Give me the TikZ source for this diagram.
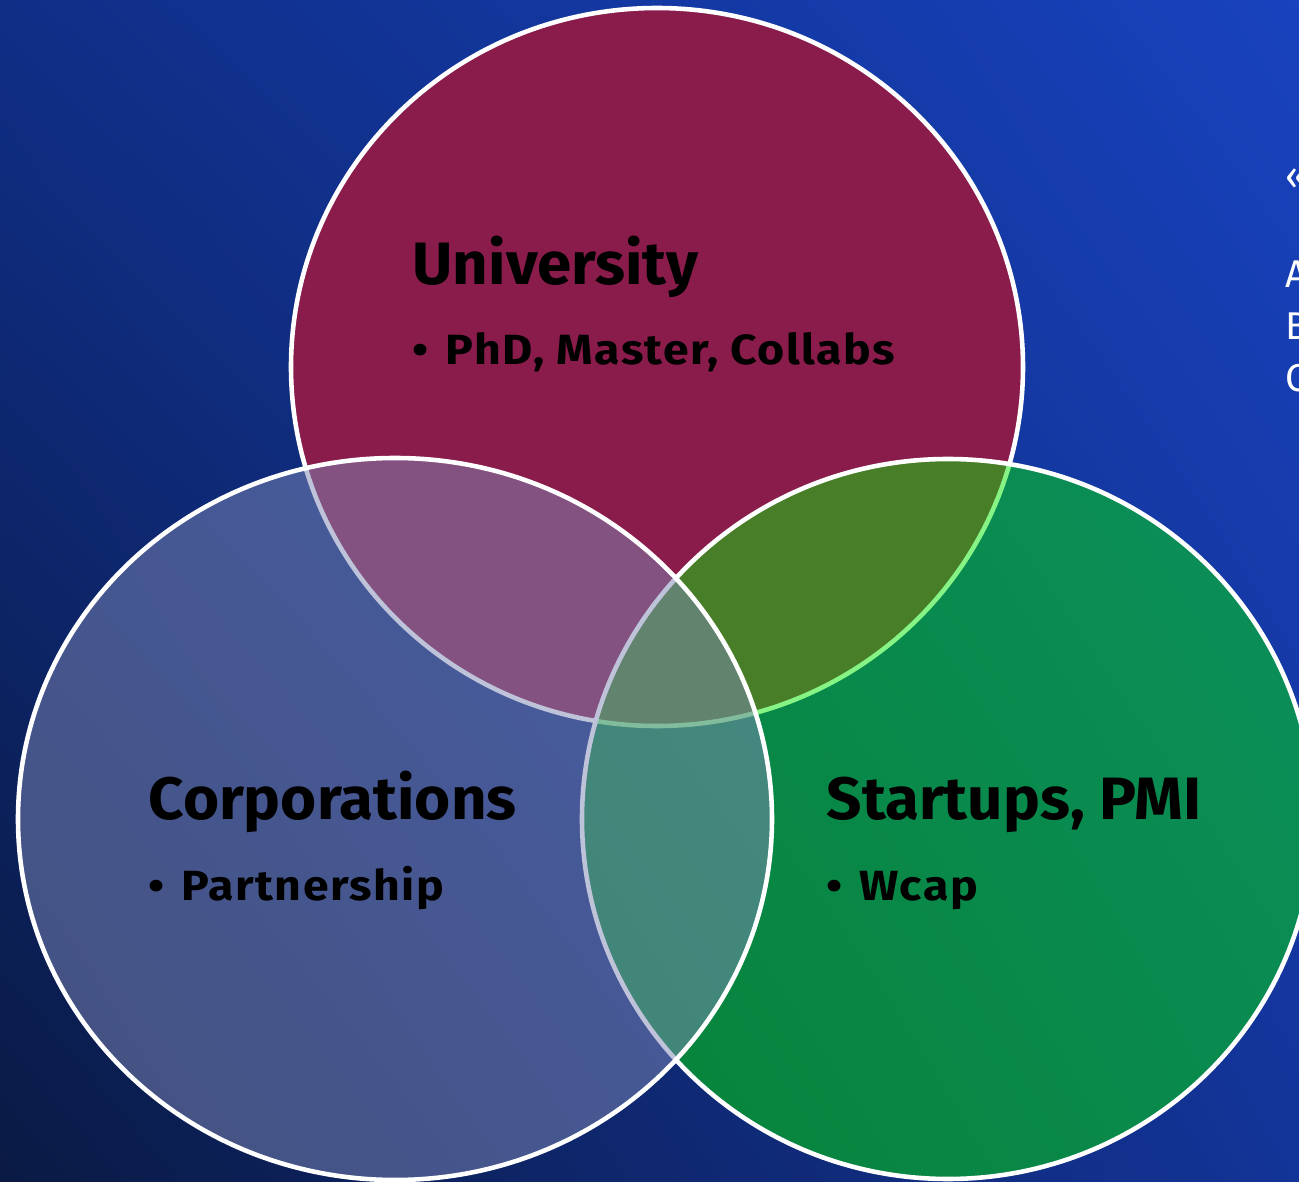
\documentclass[tikz,border=0pt]{standalone}
\usepackage{fontspec}
\usetikzlibrary{shadings}
\setmainfont{Fira Sans}
\newfontfamily\headfont[FakeStretch=1.035]{Fira Sans}
\newfontfamily\itemfont[FakeStretch=1.1,LetterSpace=3.5]{Fira Sans}
\definecolor{bgtl}{RGB}{15,46,134}
\definecolor{bgtr}{RGB}{24,66,190}
\definecolor{bgbl}{RGB}{10,26,68}
\definecolor{bgbr}{RGB}{19,52,152}
\definecolor{unired}{RGB}{138,28,76}
\definecolor{startgreen}{RGB}{0,233,0}
\definecolor{corpblue}{RGB}{126,136,182}
\begin{document}
\begin{tikzpicture}[x=0.01cm,y=-0.01cm,
  ring/.style={draw=white,line width=1.3pt},
  title/.style={anchor=base west,inner sep=0pt,font=\headfont\bfseries\fontsize{17}{20}\selectfont},
  item/.style={anchor=base west,inner sep=0pt,font=\itemfont\bfseries\fontsize{12}{15}\selectfont},
  side/.style={anchor=base west,inner sep=0pt,text=white,font=\fontsize{11}{13}\selectfont}]
\useasboundingbox (0,0) rectangle (1299,1182);
\clip (0,0) rectangle (1299,1182);
\shade[upper left=bgtl,upper right=bgtr,lower left=bgbl,lower right=bgbr] (0,0) rectangle (1299,1182);

% the three circles
\draw[ring,fill=unired] (657,367) ellipse [x radius=366, y radius=359];
\draw[ring,fill=startgreen,fill opacity=0.48] (948,819) ellipse [x radius=366, y radius=360];
\draw[ring,fill=corpblue,fill opacity=0.5] (395,819) ellipse [x radius=377, y radius=361];

\node[title] (uni) at (412,285) {University};
\node[item] (unilist) at (412,365) {•\hspace{0.4em}PhD, Master, Collabs};
\node[title] (corp) at (148,820) {Corporations};
\node[item] (corplist) at (148,900) {•\hspace{0.4em}Partnership};
\node[title] (start) at (826,820) {Startups, PMI};
\node[item] (startlist) at (826,900) {•\hspace{0.4em}Wcap};

% text cut off at the right
\node[side] (quote) at (1285,190) {«};
\node[side] (linea) at (1285,288) {A};
\node[side] (lineb) at (1285,340) {B};
\node[side] (linec) at (1285,392) {C};
\end{tikzpicture}
\end{document}
